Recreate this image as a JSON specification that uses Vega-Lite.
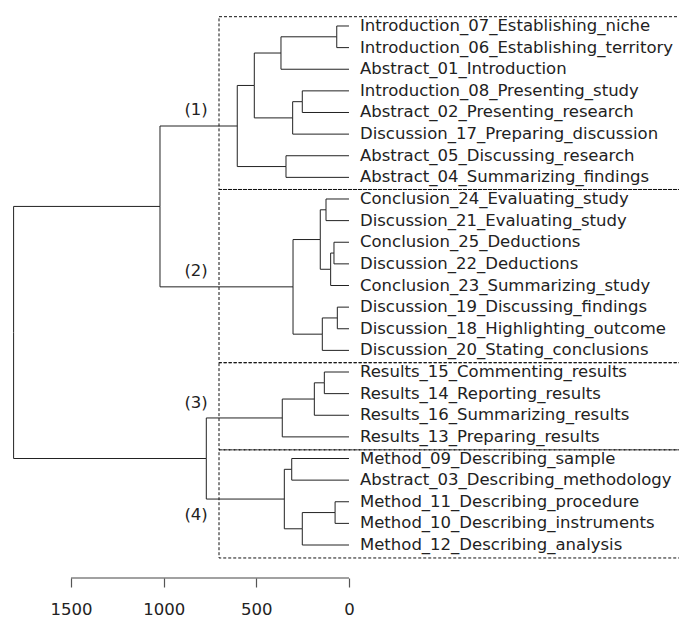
{
  "$schema": "https://vega.github.io/schema/vega-lite/v6.json",
  "width": 679,
  "height": 578,
  "autosize": "none",
  "padding": {"left": 0, "top": 0, "right": 0, "bottom": 39},
  "background": "white",
  "config": {"view": {"stroke": null}, "font": "DejaVu Sans"},
  "datasets": {
    "edges": [
      {"node": "A", "ph": 66, "py": 1.5, "ch": 0, "cy": 1},
      {"node": "A", "ph": 66, "py": 1.5, "ch": 0, "cy": 2},
      {"node": "B", "ph": 367, "py": 2.25, "ch": 66, "cy": 1.5},
      {"node": "B", "ph": 367, "py": 2.25, "ch": 0, "cy": 3},
      {"node": "C", "ph": 252, "py": 4.5, "ch": 0, "cy": 4},
      {"node": "C", "ph": 252, "py": 4.5, "ch": 0, "cy": 5},
      {"node": "D", "ph": 304, "py": 5.25, "ch": 252, "cy": 4.5},
      {"node": "D", "ph": 304, "py": 5.25, "ch": 0, "cy": 6},
      {"node": "E", "ph": 511, "py": 3.75, "ch": 367, "cy": 2.25},
      {"node": "E", "ph": 511, "py": 3.75, "ch": 304, "cy": 5.25},
      {"node": "F", "ph": 340, "py": 7.5, "ch": 0, "cy": 7},
      {"node": "F", "ph": 340, "py": 7.5, "ch": 0, "cy": 8},
      {"node": "G1", "ph": 603, "py": 5.625, "ch": 511, "cy": 3.75},
      {"node": "G1", "ph": 603, "py": 5.625, "ch": 340, "cy": 7.5},
      {"node": "H", "ph": 124, "py": 9.5, "ch": 0, "cy": 9},
      {"node": "H", "ph": 124, "py": 9.5, "ch": 0, "cy": 10},
      {"node": "I", "ph": 81, "py": 11.5, "ch": 0, "cy": 11},
      {"node": "I", "ph": 81, "py": 11.5, "ch": 0, "cy": 12},
      {"node": "J", "ph": 99, "py": 12.25, "ch": 81, "cy": 11.5},
      {"node": "J", "ph": 99, "py": 12.25, "ch": 0, "cy": 13},
      {"node": "K", "ph": 155, "py": 10.875, "ch": 124, "cy": 9.5},
      {"node": "K", "ph": 155, "py": 10.875, "ch": 99, "cy": 12.25},
      {"node": "L", "ph": 63, "py": 14.5, "ch": 0, "cy": 14},
      {"node": "L", "ph": 63, "py": 14.5, "ch": 0, "cy": 15},
      {"node": "M", "ph": 144, "py": 15.25, "ch": 63, "cy": 14.5},
      {"node": "M", "ph": 144, "py": 15.25, "ch": 0, "cy": 16},
      {"node": "G2", "ph": 302, "py": 13.0625, "ch": 155, "cy": 10.875},
      {"node": "G2", "ph": 302, "py": 13.0625, "ch": 144, "cy": 15.25},
      {"node": "N", "ph": 1020, "py": 9.34375, "ch": 603, "cy": 5.625},
      {"node": "N", "ph": 1020, "py": 9.34375, "ch": 302, "cy": 13.0625},
      {"node": "O", "ph": 133, "py": 17.5, "ch": 0, "cy": 17},
      {"node": "O", "ph": 133, "py": 17.5, "ch": 0, "cy": 18},
      {"node": "P", "ph": 187, "py": 18.25, "ch": 133, "cy": 17.5},
      {"node": "P", "ph": 187, "py": 18.25, "ch": 0, "cy": 19},
      {"node": "G3", "ph": 360, "py": 19.125, "ch": 187, "cy": 18.25},
      {"node": "G3", "ph": 360, "py": 19.125, "ch": 0, "cy": 20},
      {"node": "Q", "ph": 309, "py": 21.5, "ch": 0, "cy": 21},
      {"node": "Q", "ph": 309, "py": 21.5, "ch": 0, "cy": 22},
      {"node": "R", "ph": 75, "py": 23.5, "ch": 0, "cy": 23},
      {"node": "R", "ph": 75, "py": 23.5, "ch": 0, "cy": 24},
      {"node": "S", "ph": 252, "py": 24.25, "ch": 75, "cy": 23.5},
      {"node": "S", "ph": 252, "py": 24.25, "ch": 0, "cy": 25},
      {"node": "G4", "ph": 349, "py": 22.875, "ch": 309, "cy": 21.5},
      {"node": "G4", "ph": 349, "py": 22.875, "ch": 252, "cy": 24.25},
      {"node": "T", "ph": 770, "py": 21, "ch": 360, "cy": 19.125},
      {"node": "T", "ph": 770, "py": 21, "ch": 349, "cy": 22.875},
      {"node": "Root", "ph": 1810, "py": 15.171875, "ch": 1020, "cy": 9.34375},
      {"node": "Root", "ph": 1810, "py": 15.171875, "ch": 770, "cy": 21}
    ],
    "leaves": [
      {"i": 1, "name": "Introduction_07_Establishing_niche"},
      {"i": 2, "name": "Introduction_06_Establishing_territory"},
      {"i": 3, "name": "Abstract_01_Introduction"},
      {"i": 4, "name": "Introduction_08_Presenting_study"},
      {"i": 5, "name": "Abstract_02_Presenting_research"},
      {"i": 6, "name": "Discussion_17_Preparing_discussion"},
      {"i": 7, "name": "Abstract_05_Discussing_research"},
      {"i": 8, "name": "Abstract_04_Summarizing_findings"},
      {"i": 9, "name": "Conclusion_24_Evaluating_study"},
      {"i": 10, "name": "Discussion_21_Evaluating_study"},
      {"i": 11, "name": "Conclusion_25_Deductions"},
      {"i": 12, "name": "Discussion_22_Deductions"},
      {"i": 13, "name": "Conclusion_23_Summarizing_study"},
      {"i": 14, "name": "Discussion_19_Discussing_findings"},
      {"i": 15, "name": "Discussion_18_Highlighting_outcome"},
      {"i": 16, "name": "Discussion_20_Stating_conclusions"},
      {"i": 17, "name": "Results_15_Commenting_results"},
      {"i": 18, "name": "Results_14_Reporting_results"},
      {"i": 19, "name": "Results_16_Summarizing_results"},
      {"i": 20, "name": "Results_13_Preparing_results"},
      {"i": 21, "name": "Method_09_Describing_sample"},
      {"i": 22, "name": "Abstract_03_Describing_methodology"},
      {"i": 23, "name": "Method_11_Describing_procedure"},
      {"i": 24, "name": "Method_10_Describing_instruments"},
      {"i": 25, "name": "Method_12_Describing_analysis"}
    ],
    "groups": [
      {"label": "(1)", "top": 0.57, "bottom": 8.56, "left": 701.5, "right": -1900, "lx": 825, "ly": 4.9},
      {"label": "(2)", "top": 8.56, "bottom": 16.57, "left": 701.5, "right": -1900, "lx": 825, "ly": 12.35},
      {"label": "(3)", "top": 16.57, "bottom": 20.6, "left": 701.5, "right": -1900, "lx": 825, "ly": 18.45},
      {"label": "(4)", "top": 20.6, "bottom": 25.6, "left": 701.5, "right": -1900, "lx": 825, "ly": 23.63}
    ],
    "axisline": [{"from": 1500, "to": 0, "at": 26.526}]
  },
  "layer": [
    {
      "data": {"name": "groups"},
      "mark": {"type": "rect", "fill": null, "fillOpacity": 0, "stroke": "#111", "strokeWidth": 1, "strokeDash": [3, 2]},
      "encoding": {
        "x": {"field": "left", "type": "quantitative", "title": null,
              "scale": {"domain": [-1781, 1883.4], "reverse": true, "nice": false, "zero": false},
              "axis": {"values": [0, 500, 1000, 1500], "domain": false, "grid": false, "tickSize": 9, "tickColor": "#555", "tickWidth": 1.2,
                       "labelFont": "DejaVu Sans", "labelFontSize": 16.5, "labelColor": "#222", "labelPadding": 14, "labelFlush": false, "labelOverlap": false, "format": "d"}},
        "x2": {"field": "right"},
        "y": {"field": "top", "type": "quantitative", "title": null, "axis": null,
              "scale": {"domain": [-0.2023, 26.526], "reverse": true, "nice": false, "zero": false}},
        "y2": {"field": "bottom"}
      }
    },
    {
      "data": {"name": "edges"},
      "mark": {"type": "rule", "stroke": "#222", "strokeWidth": 1},
      "encoding": {
        "x": {"field": "ph", "type": "quantitative", "title": null},
        "y": {"field": "py", "type": "quantitative", "title": null, "axis": null},
        "y2": {"field": "cy"}
      }
    },
    {
      "data": {"name": "edges"},
      "mark": {"type": "rule", "stroke": "#222", "strokeWidth": 1},
      "encoding": {
        "x": {"field": "ph", "type": "quantitative", "title": null},
        "x2": {"field": "ch"},
        "y": {"field": "cy", "type": "quantitative", "title": null, "axis": null}
      }
    },
    {
      "data": {"name": "leaves"},
      "mark": {"type": "text", "align": "left", "baseline": "middle", "dx": 11, "fontSize": 16.5, "font": "DejaVu Sans", "color": "#222"},
      "encoding": {
        "x": {"datum": 0, "type": "quantitative"},
        "y": {"field": "i", "type": "quantitative", "title": null, "axis": null},
        "text": {"field": "name"}
      }
    },
    {
      "data": {"name": "groups"},
      "mark": {"type": "text", "align": "center", "baseline": "middle", "fontSize": 16.5, "font": "DejaVu Sans", "color": "#222"},
      "encoding": {
        "x": {"field": "lx", "type": "quantitative", "title": null},
        "y": {"field": "ly", "type": "quantitative", "title": null, "axis": null},
        "text": {"field": "label"}
      }
    },
    {
      "data": {"name": "axisline"},
      "mark": {"type": "rule", "stroke": "#444", "strokeWidth": 1.2},
      "encoding": {
        "x": {"field": "from", "type": "quantitative", "title": null},
        "x2": {"field": "to"},
        "y": {"field": "at", "type": "quantitative", "title": null, "axis": null}
      }
    }
  ]
}
